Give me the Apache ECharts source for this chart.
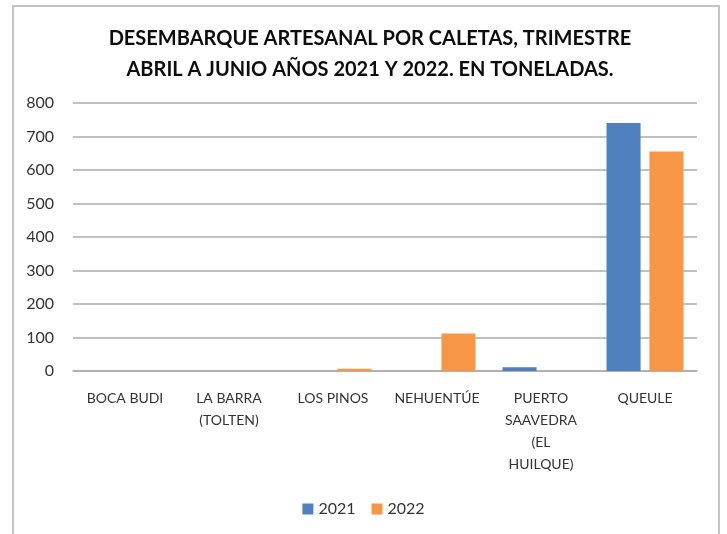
<!DOCTYPE html>
<html>
<head>
<meta charset="utf-8">
<script src="https://cdn.jsdelivr.net/npm/echarts@6/dist/echarts.min.js"></script>
<style>
  html, body { margin: 0; padding: 0; background: #fff; }
  #chart { width: 727px; height: 534px; }
</style>
</head>
<body>
<div id="chart"></div>
<script>
const caletas = ['BOCA BUDI', 'LA BARRA (TOLTEN)', 'LOS PINOS', 'NEHUENTÚE', 'PUERTO SAAVEDRA (EL HUILQUE)', 'QUEULE'];
// how the labels wrap in the original
const caletaLabels = ['BOCA BUDI', 'LA BARRA\n(TOLTEN)', 'LOS PINOS', 'NEHUENTÚE', 'PUERTO\nSAAVEDRA\n(EL\nHUILQUE)', 'QUEULE'];
const tons2021 = [0, 0, 0, 0, 11, 740];
const tons2022 = [0, 0, 7, 112, 0, 655];
const yTicks = [0, 100, 200, 300, 400, 500, 600, 700, 800];

const chart = echarts.init(document.getElementById('chart'));
const font = 'Lato, "Open Sans", sans-serif';

chart.setOption({
  animation: false,
  textStyle: { fontFamily: font },
  graphic: [{
    type: 'rect',
    shape: { x: 13, y: 6, width: 706, height: 540 },
    style: { fill: 'none', stroke: '#c4c4c4', lineWidth: 2 },
    silent: true
  }],
  title: {
    text: 'DESEMBARQUE ARTESANAL POR CALETAS, TRIMESTRE\nABRIL A JUNIO AÑOS 2021 Y 2022. EN TONELADAS.',
    left: 365,
    textAlign: 'center',
    top: 18,
    textStyle: { fontSize: 20, fontWeight: 'bold', color: '#0d0d0d', lineHeight: 31, fontFamily: font }
  },
  legend: {
    data: ['2021', '2022'],
    bottom: 12,
    left: 'center',
    itemWidth: 11,
    itemHeight: 11,
    itemGap: 16,
    icon: 'rect',
    textStyle: { fontSize: 16, color: '#333', fontFamily: font }
  },
  grid: { left: 73, right: 30, top: 103, bottom: 163 },
  xAxis: {
    type: 'category',
    data: caletas,
    axisTick: { show: false },
    axisLine: { lineStyle: { color: '#ababab', width: 1.5 } },
    axisLabel: {
      interval: 0,
      margin: 16,
      fontSize: 14,
      lineHeight: 22,
      color: '#333',
      formatter: (v, i) => caletaLabels[i]
    }
  },
  yAxis: {
    type: 'value',
    min: yTicks[0],
    max: yTicks[yTicks.length - 1],
    interval: 100,
    axisLine: { show: false },
    axisTick: { show: false },
    splitLine: { lineStyle: { color: '#ababab', width: 1.5 } },
    axisLabel: { fontSize: 16, color: '#333', margin: 19 }
  },
  series: [
    {
      name: '2021',
      type: 'bar',
      data: tons2021,
      barGap: '26%',
      barCategoryGap: '26%',
      itemStyle: { color: '#4f7fbd' }
    },
    {
      name: '2022',
      type: 'bar',
      data: tons2022,
      itemStyle: { color: '#f79646' }
    }
  ]
});
</script>
</body>
</html>
